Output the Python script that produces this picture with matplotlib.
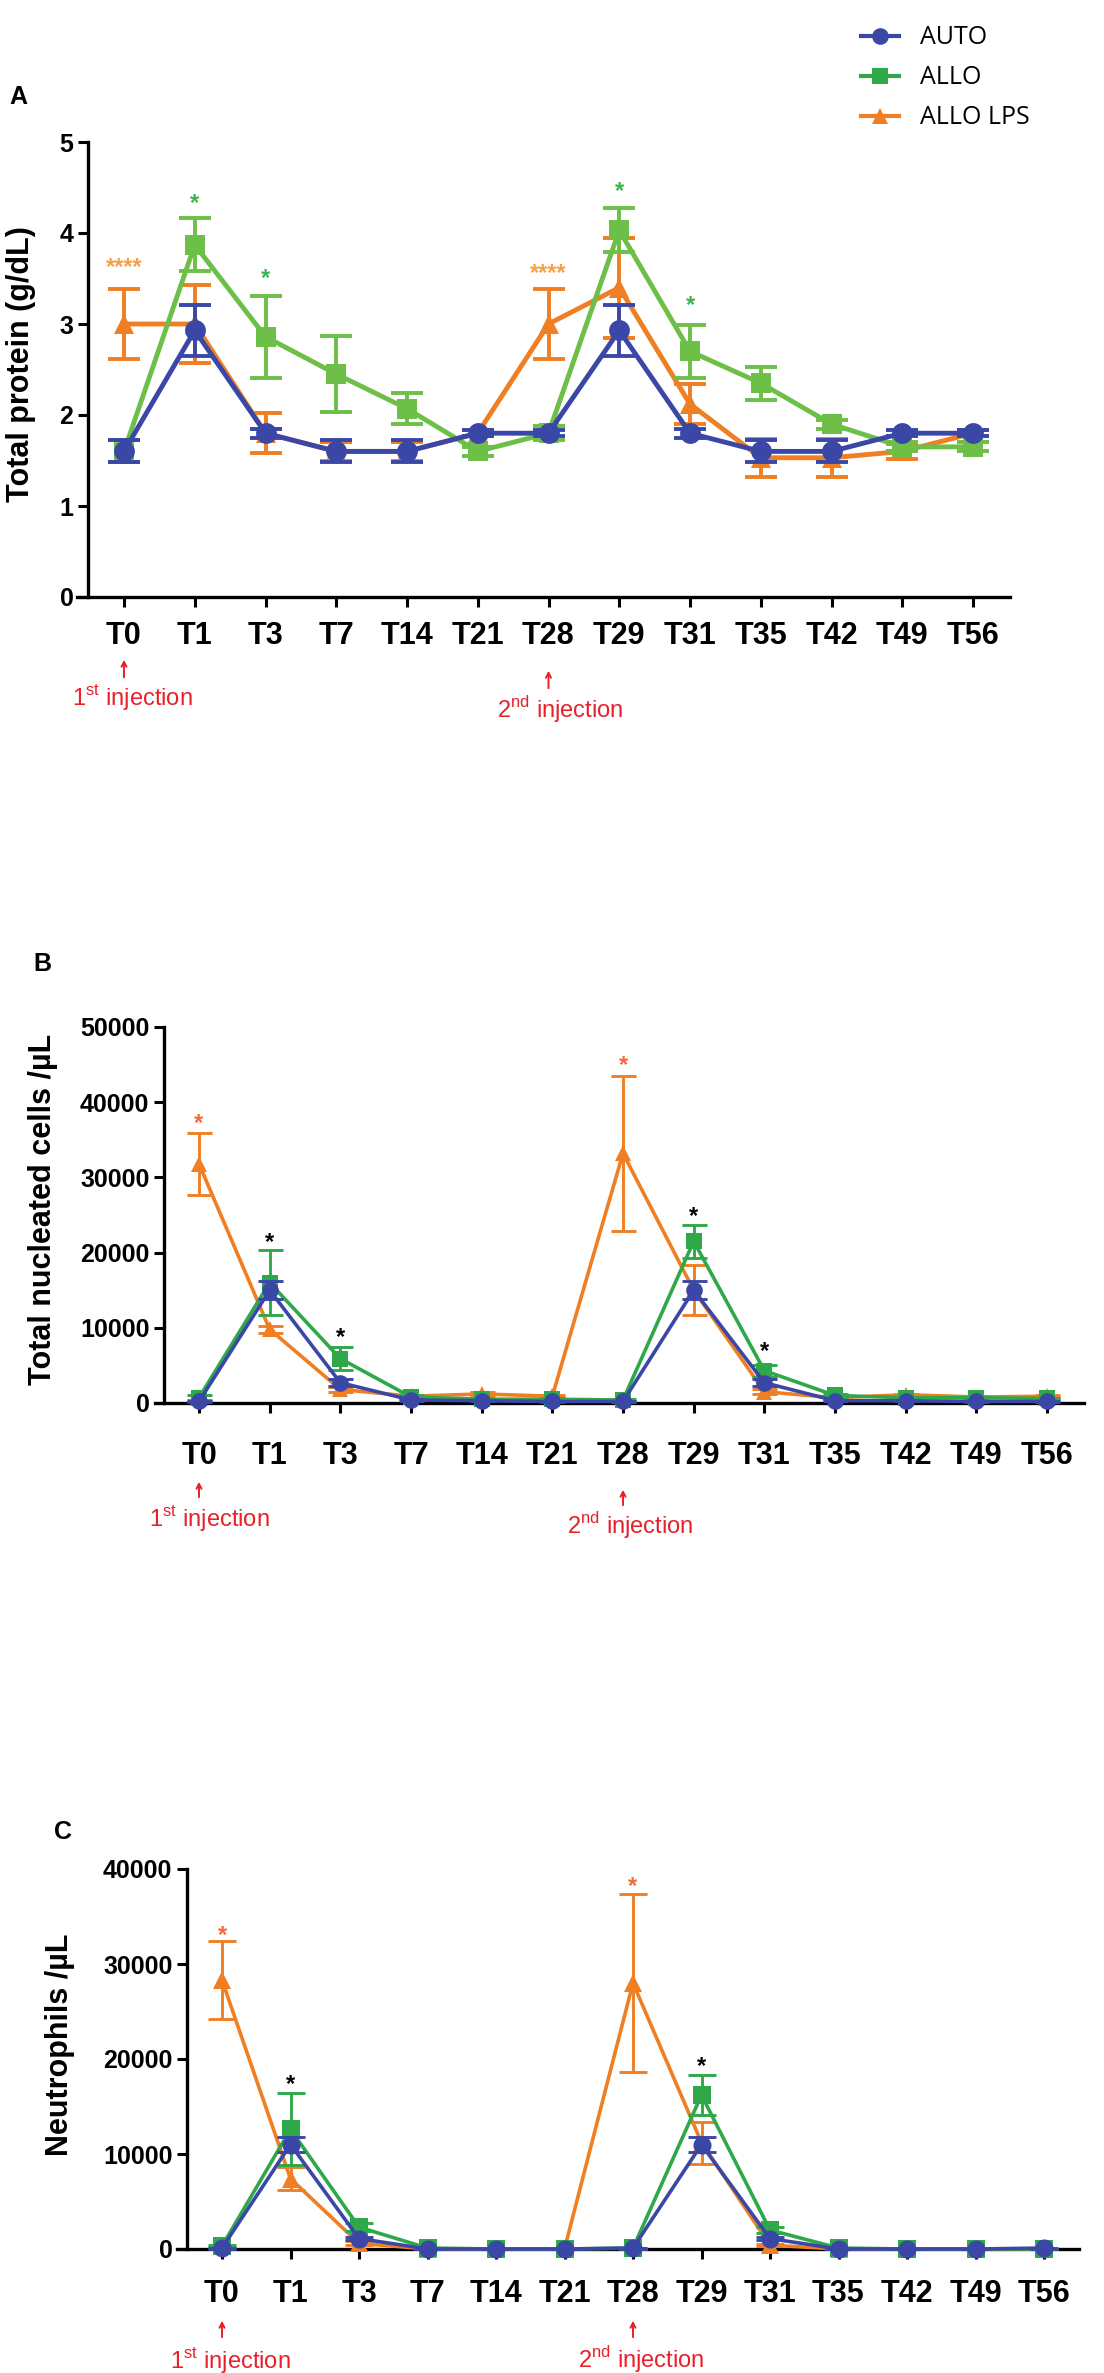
import matplotlib.pyplot as plt
from matplotlib.lines import Line2D
from matplotlib.transforms import blended_transform_factory

plt.rcParams['font.family'] = ['Liberation Sans', 'DejaVu Sans']
plt.rcParams['mathtext.fontset'] = 'custom'
plt.rcParams['mathtext.rm'] = 'Liberation Sans'

W, H = 1104, 2373

timepoints = ["T0", "T1", "T3", "T7", "T14", "T21", "T28", "T29", "T31", "T35", "T42", "T49", "T56"]
groups = ["AUTO", "ALLO", "ALLO LPS"]

# panel A - total protein (g/dL)
prot_auto = [1.6, 2.93, 1.8, 1.6, 1.6, 1.8, 1.8, 2.93, 1.8, 1.6, 1.6, 1.8, 1.8]
prot_auto_err = [0.12, 0.28, 0.05, 0.12, 0.12, 0.03, 0.03, 0.28, 0.05, 0.12, 0.12, 0.03, 0.03]
prot_allo = [1.6, 3.87, 2.86, 2.45, 2.07, 1.6, 1.8, 4.03, 2.7, 2.35, 1.9, 1.65, 1.65]
prot_allo_err = [0.12, 0.29, 0.45, 0.42, 0.17, 0.05, 0.08, 0.24, 0.29, 0.18, 0.05, 0.05, 0.05]
prot_lps = [3.0, 3.0, 1.8, 1.6, 1.6, 1.8, 3.0, 3.4, 2.12, 1.53, 1.53, 1.6, 1.8]
prot_lps_err = [0.39, 0.43, 0.22, 0.1, 0.1, 0.03, 0.39, 0.55, 0.22, 0.21, 0.21, 0.08, 0.03]

# panel B - total nucleated cells /uL
tnc_auto = [200, 15000, 2700, 400, 300, 200, 200, 15000, 2700, 300, 300, 200, 200]
tnc_auto_err = [100, 1200, 500, 100, 100, 50, 50, 1200, 500, 100, 100, 50, 50]
tnc_allo = [700, 16000, 5900, 800, 500, 500, 400, 21500, 4300, 1000, 700, 700, 600]
tnc_allo_err = [300, 4300, 1500, 200, 100, 100, 100, 2200, 800, 200, 100, 100, 100]
tnc_lps = [31800, 9800, 1800, 900, 1200, 900, 33200, 15000, 1500, 700, 1100, 800, 900]
tnc_lps_err = [4100, 500, 300, 200, 200, 100, 10300, 3300, 300, 100, 100, 100, 100]

# panel C - neutrophils /uL
neu_auto = [100, 11000, 1100, 0, 0, 0, 100, 11000, 1100, 0, 0, 0, 100]
neu_auto_err = [50, 800, 200, 0, 0, 0, 50, 800, 200, 0, 0, 0, 50]
neu_allo = [300, 12600, 2300, 100, 0, 0, 100, 16200, 2000, 100, 0, 0, 0]
neu_allo_err = [100, 3800, 400, 50, 0, 0, 50, 2100, 300, 50, 0, 0, 0]
neu_lps = [28300, 7400, 600, 0, 0, 0, 28000, 11200, 400, 0, 0, 0, 0]
neu_lps_err = [4100, 1200, 200, 0, 0, 0, 9400, 2200, 100, 0, 0, 0, 0]

# significance marks: (timepoint index, y, text, colour key)
stars_a = [(0, 3.62, "****", "lps"), (6, 3.55, "****", "lps"),
           (1, 4.32, "*", "allo"), (2, 3.5, "*", "allo"),
           (7, 4.46, "*", "allo"), (8, 3.2, "*", "allo")]
stars_b = [(0, 37200, "*", "lps"), (6, 44900, "*", "lps"),
           (1, 21300, "*", "k"), (2, 8700, "*", "k"),
           (7, 24800, "*", "k"), (8, 6900, "*", "k")]
stars_c = [(0, 33000, "*", "lps"), (6, 38200, "*", "lps"),
           (1, 17300, "*", "k"), (7, 19200, "*", "k")]

blue = "#3b47a6"
green_a = "#6dbf48"
green = "#2fa84a"
orange = "#ef7f22"
red = "#e8202a"

fig = plt.figure(figsize=(W / 100, H / 100), dpi=100)


def fy(ypx):
    return 1 - ypx / H


def make_panel(left, right, top, bottom, t0, step, spine_x, ymax, ystep, pad):
    ax = fig.add_axes([left / W, fy(bottom), (right - left) / W, (bottom - top) / H])
    ax.set_xlim((left - t0) / step, (right - t0) / step)
    ax.set_ylim(0, ymax)
    for s in ["top", "right"]:
        ax.spines[s].set_visible(False)
    ax.spines["left"].set_position(("data", (spine_x - t0) / step))
    for s in ["left", "bottom"]:
        ax.spines[s].set_linewidth(2.4)
    ax.set_xticks(range(len(timepoints)), timepoints)
    ax.set_yticks([ystep * i for i in range(int(round(ymax / ystep)) + 1)])
    ax.tick_params(axis="both", direction="out", length=7.5, width=2.2)
    ax.tick_params(axis="x", labelsize=22, pad=pad)
    ax.tick_params(axis="y", labelsize=18, pad=3)
    for lab in ax.get_xticklabels() + ax.get_yticklabels():
        lab.set_fontweight("bold")
    ax.patch.set_alpha(0)
    return ax


def draw_series(ax, vals, errs, color, marker, lw, ms, z):
    cont = ax.errorbar(range(len(vals)), vals, yerr=errs, color=color, marker=marker,
                       markersize=ms, linewidth=lw, elinewidth=lw * 0.8, capsize=ms * 0.75,
                       capthick=lw * 0.8, zorder=z)
    cont[0].set_markeredgewidth(0)
    for art in cont.get_children():
        art.set_clip_on(False)


def draw_stars(ax, stars, colors, size):
    for idx, yv, txt, key in stars:
        ax.text(idx, yv, txt, color=colors[key], fontsize=size, ha="center", va="center",
                fontweight="bold", clip_on=False)


def injections(ax, arrows, texts):
    trans = blended_transform_factory(ax.transData, fig.transFigure)
    for (xi, y1, y2), (xt, yt, txt) in zip(arrows, texts):
        ax.annotate("", xy=(xi, fy(y1)), xytext=(xi, fy(y2)), xycoords=trans, textcoords=trans,
                    arrowprops=dict(arrowstyle="->,head_length=0.35,head_width=0.18",
                                    color=red, lw=1.4), annotation_clip=False)
        ax.text(xt, fy(yt), txt, transform=trans, color=red, fontsize=17,
                ha="center", va="center")


first = r"1$^{\mathrm{st}}$ injection"
second = r"2$^{\mathrm{nd}}$ injection"

# ---- panel A
ax_a = make_panel(77, 1010, 142, 597, 124, 70.75, 88, 5, 1, 10)
draw_series(ax_a, prot_lps, prot_lps_err, orange, "^", 3.5, 15, 3)
draw_series(ax_a, prot_allo, prot_allo_err, green_a, "s", 3.5, 15, 4)
draw_series(ax_a, prot_auto, prot_auto_err, blue, "o", 3.5, 15, 5)
draw_stars(ax_a, stars_a, {"lps": "#f4a24a", "allo": "#3cb44b", "k": "black"}, 17)
injections(ax_a, [(0, 657, 680), (6, 668, 691)],
           [(0.12, 697, first), (6.17, 710, second)])
fig.text(21 / W, fy(364), "Total protein (g/dL)", rotation=90, ha="center", va="center",
         fontsize=22, fontweight="bold")
fig.text(18 / W, fy(97), "A", ha="center", va="center", fontsize=18, fontweight="bold")

# ---- panel B
ax_b = make_panel(155, 1084, 1027, 1403, 199, 70.67, 164, 50000, 10000, 20)
draw_series(ax_b, tnc_lps, tnc_lps_err, orange, "^", 2.6, 12, 3)
draw_series(ax_b, tnc_allo, tnc_allo_err, green, "s", 2.6, 12, 4)
draw_series(ax_b, tnc_auto, tnc_auto_err, blue, "o", 2.6, 12, 5)
draw_stars(ax_b, stars_b, {"lps": "#f26b3a", "allo": green, "k": "black"}, 17)
injections(ax_b, [(0, 1479, 1500), (6, 1487, 1508)],
           [(0.14, 1518, first), (6.1, 1526, second)])
fig.text(43 / W, fy(1209), "Total nucleated cells /µL", rotation=90, ha="center", va="center",
         fontsize=22, fontweight="bold")
fig.text(42 / W, fy(964), "B", ha="center", va="center", fontsize=18, fontweight="bold")

# ---- panel C
ax_c = make_panel(177, 1079, 1869, 2249, 222, 68.5, 187, 40000, 10000, 14)
draw_series(ax_c, neu_lps, neu_lps_err, orange, "^", 2.6, 13, 3)
draw_series(ax_c, neu_allo, neu_allo_err, green, "s", 2.6, 13, 4)
draw_series(ax_c, neu_auto, neu_auto_err, blue, "o", 2.6, 13, 5)
draw_stars(ax_c, stars_c, {"lps": "#f26b3a", "allo": green, "k": "black"}, 17)
injections(ax_c, [(0, 2318, 2340), (6, 2318, 2340)],
           [(0.12, 2360, first), (6.12, 2360, second)])
fig.text(60 / W, fy(2045), "Neutrophils /µL", rotation=90, ha="center", va="center",
         fontsize=22, fontweight="bold")
fig.text(63 / W, fy(1832), "C", ha="center", va="center", fontsize=18, fontweight="bold")

# ---- legend
handles = [Line2D([], [], color=blue, marker="o", markersize=12, lw=3, markeredgewidth=0),
           Line2D([], [], color=green, marker="s", markersize=11, lw=3, markeredgewidth=0),
           Line2D([], [], color=orange, marker="^", markersize=12, lw=3, markeredgewidth=0)]
fig.legend(handles, groups, loc="center left", bbox_to_anchor=(861 / W, fy(78)),
           frameon=False, borderaxespad=0, borderpad=0, handlelength=1.5,
           handletextpad=0.85, labelspacing=0.6,
           prop={"family": ["Open Sans", "DejaVu Sans"], "size": 18})

fig.savefig("out.png", dpi=100)
